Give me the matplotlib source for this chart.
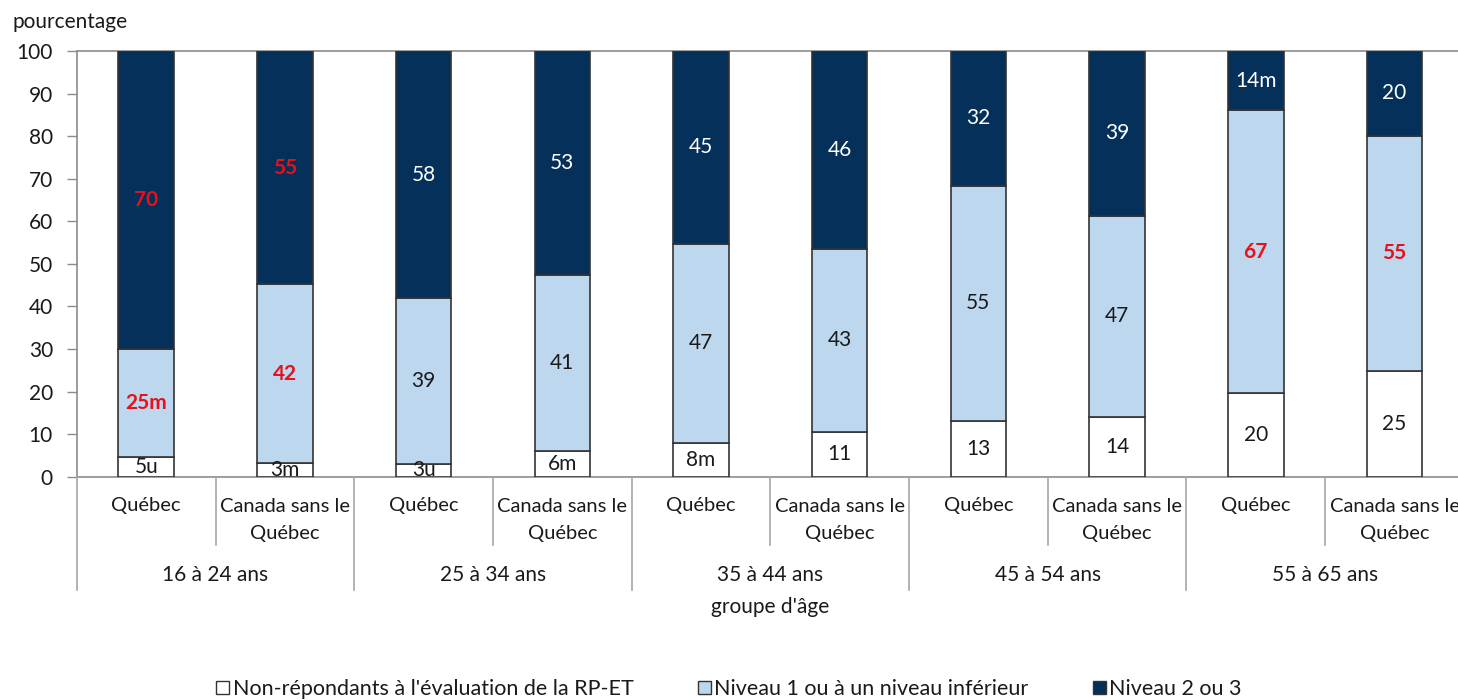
import matplotlib
matplotlib.use('Agg')
import matplotlib.pyplot as plt
from matplotlib.transforms import blended_transform_factory
from matplotlib.lines import Line2D
from matplotlib.patches import Patch

plt.rcParams['font.family'] = ['Lato', 'DejaVu Sans']

# ---- data ----
groups = ["16 à 24 ans", "25 à 34 ans", "35 à 44 ans", "45 à 54 ans", "55 à 65 ans"]
regions = ["Québec", "Canada sans le\nQuébec"]
series_names = ["Non-répondants à l'évaluation de la RP-ET",
                "Niveau 1 ou à un niveau inférieur",
                "Niveau 2 ou 3"]
non_rep = [4.6, 3.2, 3.0, 6.0, 7.9, 10.6, 13.1, 14.0, 19.6, 24.9]
niveau1 = [25.4, 42.0, 38.9, 41.4, 46.8, 42.8, 55.3, 47.3, 66.5, 55.2]
niveau23 = [70.0, 54.8, 58.1, 52.6, 45.3, 46.6, 31.6, 38.7, 13.9, 19.9]
lab_non = ["5u", "3m", "3u", "6m", "8m", "11", "13", "14", "20", "25"]
lab_n1 = ["25m", "42", "39", "41", "47", "43", "55", "47", "67", "55"]
lab_n23 = ["70", "55", "58", "53", "45", "46", "32", "39", "14m", "20"]
red_n1 = [0, 1, 8, 9]
red_n23 = [0, 1]

# ---- style ----
W, H = 1458, 700
C_WHITE = '#ffffff'
C_LIGHT = '#bdd7ee'
C_DARK = '#04305a'
C_RED = '#e8101a'
C_TXT = '#1a1a1a'
C_AX = '#8c8c8c'
FS = 15
FS_CAT = 14.5

fig = plt.figure(figsize=(W / 100, H / 100), dpi=100)
ax = fig.add_axes([76.85 / W, 1 - 476.7 / H, 1387 / W, 425.7 / H])

n = len(non_rep)
xs = list(range(n))
bw = 0.40
ekw = dict(edgecolor='#333333', linewidth=1.2)
ax.bar(xs, non_rep, bw, color=C_WHITE, label=series_names[0], **ekw, zorder=3)
bot2 = non_rep
ax.bar(xs, niveau1, bw, bottom=bot2, color=C_LIGHT, label=series_names[1], **ekw, zorder=3)
bot3 = [a + b for a, b in zip(non_rep, niveau1)]
ax.bar(xs, niveau23, bw, bottom=bot3, color=C_DARK, label=series_names[2], **ekw, zorder=3)

# value labels
for i in xs:
    ax.text(i, non_rep[i] / 2, lab_non[i], ha='center', va='center',
            fontsize=FS, color=C_TXT, zorder=5)
    r = i in red_n1
    ax.text(i, non_rep[i] + niveau1[i] / 2, lab_n1[i], ha='center', va='center',
            fontsize=FS, color=C_RED if r else C_TXT,
            fontweight='bold' if r else 'normal', zorder=5)
    r = i in red_n23
    ax.text(i, bot3[i] + niveau23[i] / 2, lab_n23[i], ha='center', va='center',
            fontsize=FS, color=C_RED if r else 'white',
            fontweight='bold' if r else 'normal', zorder=5)

ax.set_xlim(-0.5, n - 0.5)
ax.set_ylim(0, 100)
ax.set_yticks(range(0, 101, 10))
ax.set_xticks([])
ax.tick_params(axis='y', length=7.2, width=1, color=C_AX, labelsize=FS,
               labelcolor=C_TXT, pad=10)
for s in ['left', 'bottom', 'top']:
    ax.spines[s].set_color(C_AX)
    ax.spines[s].set_linewidth(1.2)
ax.spines['right'].set_visible(False)

# multi-level category axis
trans = blended_transform_factory(ax.transData, fig.transFigure)
y0 = 1 - 476.7 / H
for k in range(n + 1):
    b = k - 0.5
    yend = 590 if k % 2 == 0 else 545
    fig.add_artist(Line2D([b, b], [y0, 1 - yend / H], transform=trans,
                          color='#a6a6a6', linewidth=1.2, clip_on=False))
for i in xs:
    for j, line in enumerate(regions[i % 2].split('\n')):
        ax.text(i, 1 - (506 + 27 * j) / H, line, transform=trans,
                ha='center', va='center', fontsize=FS_CAT, color=C_TXT)
for g, name in enumerate(groups):
    ax.text(2 * g + 0.5, 1 - 575 / H, name, transform=trans,
            ha='center', va='center', fontsize=FS, color=C_TXT)

fig.text(770 / W, 1 - 607 / H, "groupe d'âge", ha='center', va='center',
         fontsize=FS, color=C_TXT)
fig.text(13 / W, 1 - 22 / H, "pourcentage", ha='left', va='center',
         fontsize=FS, color=C_TXT)

handles = [Patch(facecolor=c, edgecolor='#333333', linewidth=1.0)
           for c in (C_WHITE, C_LIGHT, C_DARK)]
fig.legend(handles, series_names, loc='center', bbox_to_anchor=(729 / W, 1 - 689 / H),
           ncol=3, frameon=False, fontsize=15.5, handlelength=0.6, handleheight=0.6,
           handletextpad=0.15, columnspacing=3.0, labelcolor=C_TXT,
           borderpad=0, borderaxespad=0)

fig.savefig('out.png', dpi=100)
